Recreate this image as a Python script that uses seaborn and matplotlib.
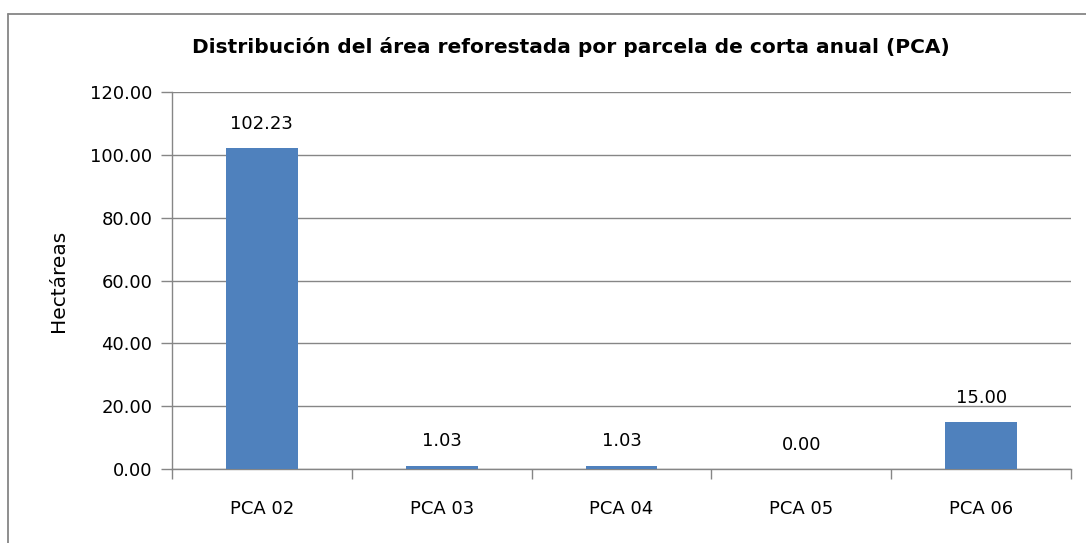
import numpy as np
import seaborn as sns
import matplotlib.pyplot as plt
from matplotlib.lines import Line2D
from matplotlib.ticker import FixedLocator, FormatStrFormatter

parcelas = ['PCA 02', 'PCA 03', 'PCA 04', 'PCA 05', 'PCA 06']
hectareas = [102.23, 1.03, 1.03, 0.00, 15.00]
y_ticks = [0, 20, 40, 60, 80, 100, 120]

sns.set_style('white')
plt.rcParams['font.family'] = ['DejaVu Sans']
plt.rcParams['text.color'] = 'black'
plt.rcParams['axes.labelcolor'] = 'black'
plt.rcParams['xtick.labelcolor'] = 'black'
plt.rcParams['ytick.labelcolor'] = 'black'

W, H = 1086, 543
fig = plt.figure(figsize=(W / 100, H / 100), dpi=100)
ax = fig.add_axes([172 / W, 1 - 469 / H, (1071 - 172) / W, (469 - 92) / H])

grey = '#868686'
sns.barplot(x=parcelas, y=hectareas, color='#4F81BD', saturation=1,
            width=0.4, linewidth=0, ax=ax, zorder=3)

ax.set_ylim(0, 120)
ax.set_xlim(-0.5, 4.5)
ax.set_yticks(y_ticks)
ax.yaxis.set_major_formatter(FormatStrFormatter('%.2f'))
ax.grid(axis='y', color=grey, linewidth=1, zorder=0)
ax.set_axisbelow(True)

for side in ['top', 'right']:
    ax.spines[side].set_visible(False)
for side in ['left', 'bottom']:
    ax.spines[side].set_color(grey)
    ax.spines[side].set_linewidth(1)

ax.tick_params(axis='y', length=8, width=1, color=grey, labelsize=13, pad=6,
               left=True, direction='out')
ax.tick_params(axis='x', which='major', length=0, labelsize=13, pad=22)
ax.xaxis.set_minor_locator(FixedLocator(np.arange(-0.5, 5, 1)))
ax.tick_params(axis='x', which='minor', length=7, width=1, color=grey,
               bottom=True, direction='out')

ax.bar_label(ax.containers[0], fmt='%.2f', padding=11, fontsize=13)

ax.set_ylabel('Hectáreas', fontsize=14.5, labelpad=16)
ax.set_xlabel('')

fig.text(0.5 * (197 + 945) / W, 1 - 47 / H,
         'Distribución del área reforestada por parcela de corta anual (PCA)',
         ha='center', va='center', fontsize=14.5, fontweight='bold')

# marco exterior (solo borde superior e izquierdo visibles)
x0, y0 = 8 / W, 1 - 14 / H
fig.add_artist(Line2D([x0, 1.0], [y0, y0], transform=fig.transFigure,
                      color=grey, linewidth=1.3))
fig.add_artist(Line2D([x0, x0], [0.0, y0], transform=fig.transFigure,
                      color=grey, linewidth=1.3))

fig.savefig('out.png', dpi=100)
